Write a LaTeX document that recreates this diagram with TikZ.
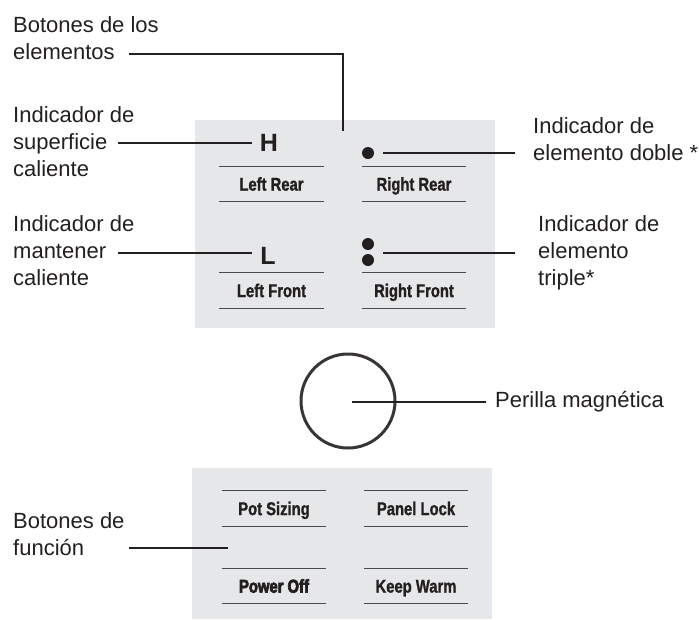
\documentclass[tikz,border=0pt]{standalone}
\usepackage{fontspec}
\setmainfont{Liberation Sans}
\newfontface\btnface{Liberation Sans Bold}[FakeStretch=0.8,FakeBold=1.2]
\newfontface\btnheavyface{Liberation Sans Bold}[FakeStretch=0.8,FakeBold=3.5]
\definecolor{ink}{HTML}{231F20}
\definecolor{panelgray}{HTML}{E6E7E8}
\definecolor{btnline}{HTML}{4A4A4A}
\tikzset{
  lbl/.style={font=\fontsize{22}{27}\selectfont, text=ink, align=left, inner sep=0pt, anchor=west},
  lead/.style={draw=ink, line width=2pt},
  panel/.style={fill=panelgray},
  btnbox/.style={font=\fontsize{18.5}{18.5}\selectfont\btnface, text=ink, minimum width=104pt, minimum height=35pt, inner sep=0pt, text height=13.2pt, text depth=0pt},
  heavybox/.style={btnbox, font=\fontsize{18.5}{18.5}\selectfont\btnheavyface},
  btnedge/.style={draw=btnline, line width=1.2pt},
  indic/.style={font=\fontsize{25}{25}\selectfont\bfseries, text=ink, inner sep=0pt, text height=18pt, text depth=0pt},
  dotmark/.style={circle, fill=ink, minimum size=12pt, inner sep=0pt},
}
\begin{document}
\begin{tikzpicture}[x=1pt,y=-1pt]
\useasboundingbox (0,0) rectangle (699,619);
% panels
\fill[panel] (195,120) rectangle (495,328);
\fill[panel] (192,468) rectangle (492,619);

% element buttons
\node[btnbox] (lr) at (271.5,184) {Left Rear};
\node[btnbox] (rr) at (414,184) {Right Rear};
\node[btnbox] (lf) at (271.5,290.5) {Left Front};
\node[btnbox] (rf) at (414,290.5) {Right Front};
% function buttons
\node[btnbox] (ps) at (274,508.5) {Pot Sizing};
\node[btnbox] (pl) at (416,508.5) {Panel Lock};
\node[heavybox] (po) at (274,586) {Power Off};
\node[btnbox] (kw) at (416,586) {Keep Warm};
\foreach \b in {lr,rr,lf,rf,ps,pl,po,kw}{
  \draw[btnedge] (\b.north west) -- (\b.north east);
  \draw[btnedge] (\b.south west) -- (\b.south east);
}

% indicators
\node[indic] (H) at (269,142.5) {H};
\node[indic] (L) at (268,255) {L};
\node[dotmark] (d1) at (368,153) {};
\node[dotmark] (d2) at (368,244) {};
\node[dotmark] (d3) at (368,260) {};

% knob
\node[circle, draw=ink!90, line width=3pt, minimum size=94pt, inner sep=0pt] (knob) at (348,401) {};
\coordinate (knobc) at (352,402);

% labels
\node[lbl] (elem) at (13,38.5) {Botones de los\\elementos};
\node[lbl] (hot) at (13,142) {Indicador de\\superficie\\caliente};
\node[lbl] (warm) at (13,251) {Indicador de\\mantener\\caliente};
\node[lbl] (dbl) at (533,139) {Indicador de\\elemento doble *};
\node[lbl] (tri) at (538,253) {Indicador de\\elemento\\triple*};
\node[lbl, anchor=base west] (mag) at (495,407) {Perilla magnética};
\node[lbl] (func) at (13,534) {Botones de\\función};

% connector end points
\coordinate (elemA) at (129,54);
\coordinate (elemB) at (343,54);
\coordinate (elemC) at (343,131);
\coordinate (hotA) at (118,143);
\coordinate (hotB) at (252,143);
\coordinate (warmA) at (118,253);
\coordinate (warmB) at (252,253);
\coordinate (dblA) at (515,153);
\coordinate (dblB) at (383,153);
\coordinate (triA) at (515,253);
\coordinate (triB) at (383,253);
\coordinate (magA) at (486,402);
\coordinate (funcA) at (129,548);
\coordinate (funcB) at (228,548);

% connectors
\draw[lead] (elemA) -- (elemB) -- (elemC);
\draw[lead] (hotA) -- (hotB);
\draw[lead] (warmA) -- (warmB);
\draw[lead] (dblA) -- (dblB);
\draw[lead] (triA) -- (triB);
\draw[lead] (magA) -- (knobc);
\draw[lead] (funcA) -- (funcB);
\end{tikzpicture}
\end{document}
